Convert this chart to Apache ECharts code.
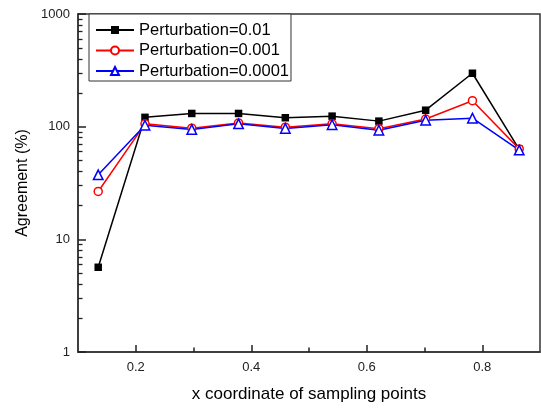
<!DOCTYPE html>
<html>
<head>
<meta charset="utf-8">
<script src="https://cdn.jsdelivr.net/npm/echarts@6/dist/echarts.min.js"></script>
<style>html,body{margin:0;padding:0;background:#fff}#c{width:541px;height:408px}</style>
</head>
<body>
<div id="c"></div>
<script>
var xValues = [0.135, 0.216, 0.297, 0.378, 0.459, 0.540, 0.621, 0.702, 0.783, 0.864];
var seriesNames = ['Perturbation=0.01', 'Perturbation=0.001', 'Perturbation=0.0001'];
var p001 = [5.65, 121, 131, 131, 120, 124, 112, 140, 298, 63];
var p0001 = [26.6, 106, 97, 108, 99, 106, 96, 117, 170, 63.5];
var p00001 = [37.4, 103, 94.5, 106, 96.5, 104, 93, 114, 119, 62];
var xTickLabels = [0.2, 0.4, 0.6, 0.8];
var xMinorTicks = [0.3, 0.5, 0.7];
var yMajor = [1, 10, 100, 1000];
var yMinor = [2,3,4,5,6,7,8,9,20,30,40,50,60,70,80,90,200,300,400,500,600,700,800,900];

function pairs(vals){ return xValues.map(function(x,i){ return [x, vals[i]]; }); }

var font = 'Liberation Sans, Arial, sans-serif';
var axisColor = '#333';
var noSplit = {show: false};
var chart = echarts.init(document.getElementById('c'));
chart.setOption({
  animation: false,
  textStyle: {fontFamily: font},
  grid: {left: 78, right: 1, top: 14, bottom: 55.5, show: true, borderColor: axisColor, borderWidth: 1.5},
  legend: {
    left: 89, top: 14, orient: 'vertical',
    backgroundColor: '#fff', borderColor: axisColor, borderWidth: 1, borderRadius: 0,
    padding: [7, 2, 1, 6], itemGap: 2.5, itemWidth: 38, itemHeight: 10,
    textStyle: {fontFamily: font, fontSize: 16.5, color: '#000', lineHeight: 18},
    data: seriesNames
  },
  xAxis: [{
    type: 'value', min: 0.1, max: 0.9,
    name: 'x coordinate of sampling points', nameLocation: 'middle', nameGap: 34,
    nameTextStyle: {fontFamily: font, fontSize: 17, color: '#000', verticalAlign: 'top'},
    axisLine: {show: true, lineStyle: {color: axisColor, width: 1.5}},
    axisTick: {show: true, inside: true, length: 7, customValues: xTickLabels, lineStyle: {color: '#222', width: 1.5}},
    axisLabel: {customValues: xTickLabels, fontFamily: font, fontSize: 13, color: '#222', margin: 9},
    splitLine: noSplit
  }, {
    type: 'value', min: 0.1, max: 0.9, position: 'bottom',
    axisLine: {show: false},
    axisTick: {show: true, inside: true, length: 4.5, customValues: xMinorTicks, lineStyle: {color: '#222', width: 1.5}},
    axisLabel: {show: false}, splitLine: noSplit
  }],
  yAxis: [{
    type: 'log', logBase: 10, min: 1, max: 1000,
    name: 'Agreement (%)', nameLocation: 'middle', nameGap: 42,
    nameTextStyle: {fontFamily: font, fontSize: 16, color: '#000'},
    axisLine: {show: true, lineStyle: {color: axisColor, width: 1.5}},
    axisTick: {show: true, inside: true, length: 8, customValues: yMajor, lineStyle: {color: '#222', width: 1.5}},
    axisLabel: {customValues: yMajor, fontFamily: font, fontSize: 13, color: '#222', margin: 8,
      formatter: function(v){ return String(Math.round(v)); }},
    splitLine: noSplit
  }, {
    type: 'log', logBase: 10, min: 1, max: 1000, position: 'left',
    axisLine: {show: false},
    axisTick: {show: true, inside: true, length: 4.5, customValues: yMinor, lineStyle: {color: '#222', width: 1.3}},
    axisLabel: {show: false}, splitLine: noSplit
  }],
  series: [{
    name: seriesNames[0], type: 'line', data: pairs(p001),
    symbol: 'rect', symbolSize: 7.5,
    lineStyle: {color: '#000', width: 1.5},
    itemStyle: {color: '#000', borderColor: '#000', borderWidth: 0}
  }, {
    name: seriesNames[1], type: 'line', data: pairs(p0001),
    symbol: 'circle', symbolSize: 8,
    lineStyle: {color: '#ff0000', width: 1.5},
    itemStyle: {color: '#fff', borderColor: '#ff0000', borderWidth: 1.5}
  }, {
    name: seriesNames[2], type: 'line', data: pairs(p00001),
    symbol: 'triangle', symbolSize: 9.5,
    lineStyle: {color: '#0000ff', width: 1.5},
    itemStyle: {color: '#fff', borderColor: '#0000ff', borderWidth: 1.5}
  }]
});
</script>
</body>
</html>
